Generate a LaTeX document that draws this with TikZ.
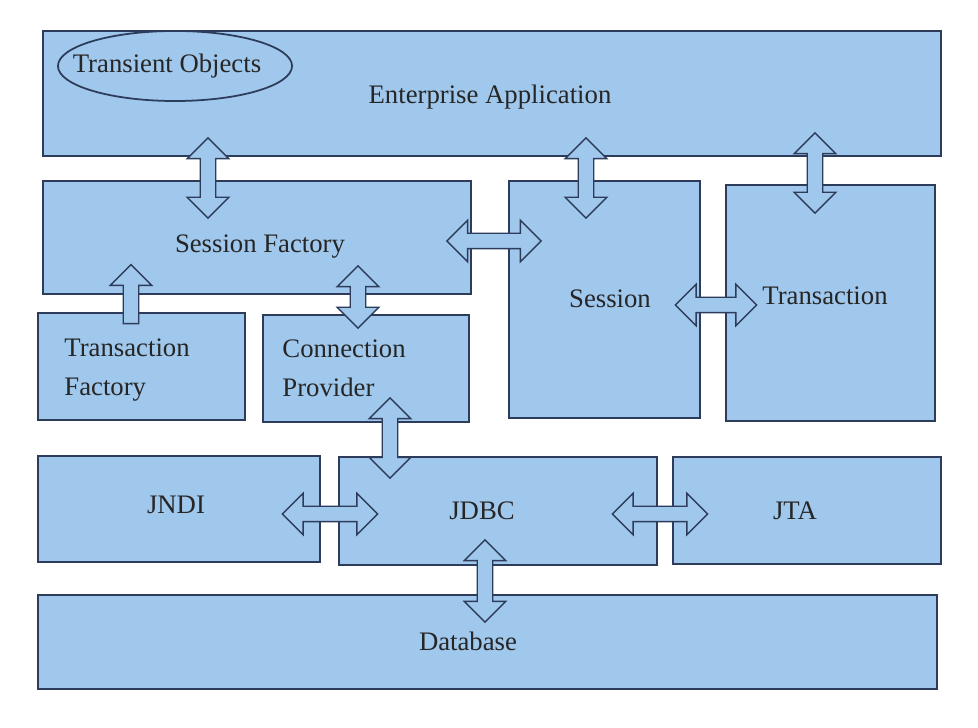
\documentclass[tikz,border=0pt]{standalone}
\usepackage{fontspec}
\setmainfont{Liberation Serif}
\usetikzlibrary{shapes.arrows}
\definecolor{bfill}{RGB}{160,199,236}
\definecolor{bdraw}{RGB}{45,60,90}
\begin{document}
\begin{tikzpicture}[x=0.01cm,y=-0.01cm,
 box/.style={draw=bdraw,fill=bfill,line width=0.5pt},
 lbl/.style={font=\fontsize{7.6}{9.2}\selectfont,text=black!85},
 dar/.style={double arrow,draw=bdraw,fill=bfill,line width=0.4pt,inner sep=0.07cm,minimum width=0.4cm,double arrow head extend=0.13cm,double arrow tip angle=90,anchor=center},
 sar/.style={single arrow,draw=bdraw,fill=bfill,line width=0.4pt,inner sep=0.07cm,minimum width=0.4cm,single arrow head extend=0.13cm,single arrow tip angle=90,anchor=center}]
\useasboundingbox (0,0) rectangle (978,728);
\fill[white] (0,0) rectangle (978,728);
\path[box] (43,31) rectangle (941,156);
\node[lbl] (ea) at (490,97) {Enterprise Application};
\draw[bdraw,line width=0.5pt] (175,66) ellipse [x radius=1.17cm,y radius=0.35cm];
\node[lbl] (to) at (167,66) {Transient Objects};
\path[box] (43,181) rectangle (471,294);
\node[lbl] (sf) at (260,247) {Session Factory};
\path[box] (509,181) rectangle (700,418);
\node[lbl] (se) at (610,299) {Session};
\path[box] (726,185) rectangle (935,421);
\node[lbl] (tr) at (825,296) {Transaction};
\path[box] (38,313) rectangle (245,420);
\node[lbl,align=left,anchor=west] (tf) at (52,370) {Transaction\\[2pt]Factory};
\path[box] (263,315) rectangle (469,422);
\node[lbl,align=left,anchor=west] (cp) at (270,368) {Connection\\[2pt]Provider};
\path[box] (38,456) rectangle (320,562);
\node[lbl] (jn) at (176,505) {JNDI};
\path[box] (339,457) rectangle (657,565);
\node[lbl] (jd) at (482,511) {JDBC};
\path[box] (673,457) rectangle (941,564);
\node[lbl] (jt) at (795,511) {JTA};
\path[box] (38,595) rectangle (937,689);
\node[lbl] (db) at (468,641) {Database};
% arrows
\node[dar,rotate=90,minimum height=0.8cm] (a1) at (208,178) {};
\node[dar,rotate=90,minimum height=0.8cm] (a2) at (586,178) {};
\node[dar,rotate=90,minimum height=0.8cm] (a3) at (815,173) {};
\node[dar,minimum height=0.94cm] (a4) at (494,241) {};
\node[sar,rotate=90,minimum height=0.59cm] (a5) at (131,298) {};
\node[dar,rotate=90,minimum height=0.62cm] (a6) at (358,297) {};
\node[dar,minimum height=0.81cm] (a7) at (716,305) {};
\node[dar,rotate=90,minimum height=0.8cm] (a8) at (390,438) {};
\node[dar,minimum height=0.95cm] (a9) at (330,514) {};
\node[dar,minimum height=0.95cm] (a10) at (660,514) {};
\node[dar,rotate=90,minimum height=0.82cm] (a11) at (485,581) {};
\end{tikzpicture}
\end{document}
